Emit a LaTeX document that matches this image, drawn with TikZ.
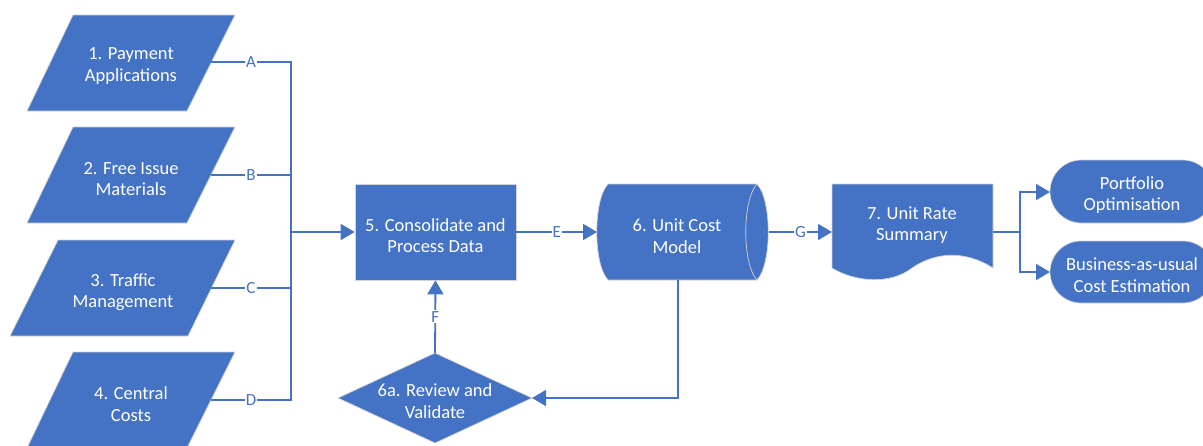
\documentclass[tikz,border=0pt]{standalone}
\usepackage{fontspec}
\setmainfont{Carlito}
\usetikzlibrary{arrows.meta}
\definecolor{flowblue}{HTML}{4472C4}
\definecolor{edgegray}{HTML}{D3D3D3}
\begin{document}
\begin{tikzpicture}[x=1pt,y=-1pt,
  shapefill/.style={fill=flowblue,draw=edgegray,line width=0.7pt},
  txt/.style={text=white,align=center,font=\fontsize{18.5}{21.5}\selectfont,inner sep=0pt},
  conn/.style={draw=flowblue,line width=1.8pt},
  arr/.style={conn,-{Triangle[length=14pt,width=16pt]}},
  tag/.style={fill=white,text=flowblue,font=\fontsize{17}{19}\selectfont,inner sep=1pt},
]
\useasboundingbox (0,0) rectangle (1203,445);
\clip (0,0) rectangle (1203,445);

% input parallelograms
\path[shapefill] (73,15) -- (235,15) -- (187,111) -- (27,111) -- cycle;
\path[shapefill] (73,127) -- (235,127) -- (187,223) -- (27,223) -- cycle;
\path[shapefill] (58,240) -- (235,240) -- (188,336) -- (10,336) -- cycle;
\path[shapefill] (73,352) -- (235,352) -- (187,448) -- (27,448) -- cycle;
\node[txt] (pay) at (131,66) {1. Payment\\Applications};
\node[txt] (fim) at (131,179) {2. Free Issue\\Materials};
\node[txt] (trm) at (123,292) {3. Traffic\\Management};
\node[txt] (cen) at (131,404) {4. Central\\Costs};
\coordinate (payR) at (211,62);
\coordinate (fimR) at (211,175);
\coordinate (trmR) at (211,288);
\coordinate (cenR) at (211,400);
\coordinate (busA) at (291,62);
\coordinate (busB) at (291,175);
\coordinate (busC) at (291,288);
\coordinate (busD) at (291,400);

% consolidate box
\node[shapefill,minimum width=161pt,minimum height=96pt] (cons) at (435.5,232) {};
\node[txt] (consT) at (435.5,235.5) {5. Consolidate and\\Process Data};

% unit cost model (direct-access storage)
\path[shapefill] (608,184) -- (757,184)
  .. controls (772,200) and (772,264) .. (757,280) -- (608,280)
  .. controls (593,264) and (593,200) .. (608,184) -- cycle;
\draw[edgegray,line width=0.7pt] (757,184) .. controls (742,200) and (742,264) .. (757,280);
\node[txt] (ucm) at (677,236) {6. Unit Cost\\Model};
\coordinate (ucmL) at (597,232);
\coordinate (ucmR) at (769,232);
\coordinate (ucmB) at (678,280);

% review diamond
\path[shapefill] (338,398) -- (435,353) -- (532,398) -- (435,443) -- cycle;
\node[txt] (rev) at (435,401) {6a. Review and\\Validate};
\coordinate (revT) at (435,353);
\coordinate (revR) at (532,398);

% unit rate summary (document)
\path[shapefill] (832,184) -- (993,184) -- (993,268)
  .. controls (965,250) and (935,252) .. (912,268)
  .. controls (890,285) and (855,282) .. (832,268) -- cycle;
\node[txt] (urs) at (912,225) {7. Unit Rate\\Summary};
\coordinate (ursL) at (832,232);
\coordinate (ursR) at (993,232);

% terminators
\path[shapefill,rounded corners=31.5pt] (1050,160) rectangle (1214,223);
\path[shapefill,rounded corners=31pt] (1050,241) rectangle (1214,303);
\node[txt] (pfo) at (1132,195) {Portfolio\\Optimisation};
\node[txt] (bau) at (1132,275) {Business-as-usual\\Cost Estimation};
\coordinate (pfoL) at (1050,192);
\coordinate (bauL) at (1050,272);
\coordinate (splitT) at (1020,192);
\coordinate (splitB) at (1020,272);

% connectors
\draw[conn] (payR) -- node[tag]{A} (busA) -- (busD) -- node[tag]{D} (cenR);
\draw[conn] (fimR) -- node[tag]{B} (busB);
\draw[conn] (trmR) -- node[tag]{C} (busC);
\draw[arr] (busA |- cons.west) -- (cons.west);
\draw[arr] (cons.east) -- node[tag]{E} (ucmL);
\draw[arr] (ucmR) -- node[tag]{G} (ursL);
\draw[arr] (revT) -- node[tag]{F} (cons.south);
\draw[arr] (ucmB) |- (revR);
\draw[conn] (ursR) -- (splitT |- ursR);
\draw[arr] (splitB) -- (splitT) -- (pfoL);
\draw[arr] (splitT) -- (splitB) -- (bauL);
\end{tikzpicture}
\end{document}
